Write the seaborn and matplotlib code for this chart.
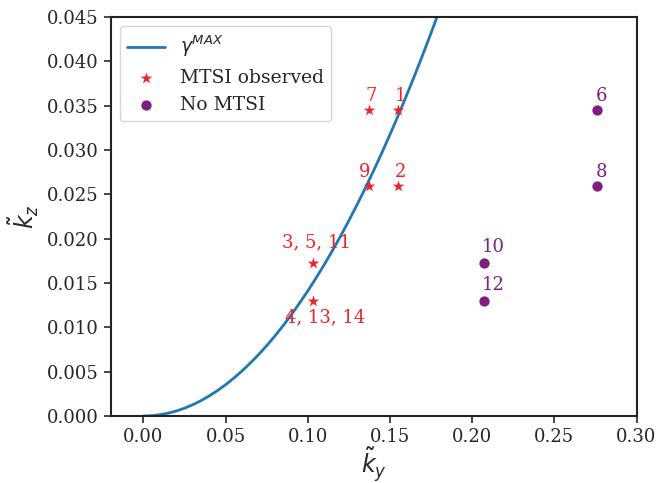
import matplotlib
matplotlib.use("Agg")
import matplotlib.pyplot as plt
import seaborn as sns
import pandas as pd

# Curve gamma^MAX
curve_x = [0.000, 0.005, 0.010, 0.015, 0.020, 0.025, 0.030, 0.035, 0.040, 0.045,
           0.050, 0.055, 0.060, 0.065, 0.070, 0.075, 0.080, 0.085, 0.090, 0.095,
           0.100, 0.105, 0.110, 0.115, 0.120, 0.125, 0.130, 0.135, 0.140, 0.145,
           0.150, 0.155, 0.160, 0.165, 0.170, 0.175, 0.180, 0.185]
curve_y = [0.0, 0.000035, 0.00014, 0.00032, 0.00056, 0.00088, 0.00127, 0.00173,
           0.00226, 0.00286, 0.00353, 0.00427, 0.00508, 0.00596, 0.00691, 0.00793,
           0.00902, 0.01019, 0.01142, 0.01273, 0.0141, 0.01555, 0.01706, 0.01865,
           0.0203, 0.02203, 0.02383, 0.0257, 0.02764, 0.02965, 0.03173, 0.03388,
           0.0361, 0.03839, 0.04075, 0.04318, 0.04568, 0.04826]

# MTSI observed
obs_x = [0.155, 0.155, 0.103, 0.103, 0.1375, 0.1375]
obs_y = [0.0345, 0.0259, 0.01725, 0.0130, 0.0345, 0.0259]
obs_labels = ["1", "2", "3, 5, 11", "4, 13, 14", "7", "9"]

# No MTSI
no_x = [0.276, 0.276, 0.207, 0.207]
no_y = [0.0345, 0.0259, 0.01725, 0.0130]
no_labels = ["6", "8", "10", "12"]

RED = "#ee2228"
PURPLE = "#7d1f80"
BLUE = "#1f77b4"

sns.set_style("ticks")
plt.rcParams["font.family"] = ["DejaVu Serif"]
plt.rcParams["mathtext.fontset"] = "dejavusans"

fig = plt.figure(figsize=(6.58, 4.83), dpi=100)
ax = fig.add_axes([0.168, 0.1387, 0.7994, 0.8265])

curve_df = pd.DataFrame({"x": curve_x, "y": curve_y})
obs_df = pd.DataFrame({"x": obs_x, "y": obs_y})
no_df = pd.DataFrame({"x": no_x, "y": no_y})

sns.lineplot(data=curve_df, x="x", y="y", ax=ax, color=BLUE, lw=2,
             label=r"$\gamma^{MAX}$", sort=False)
sns.scatterplot(data=obs_df, x="x", y="y", ax=ax, marker="*", color=RED,
                s=75, linewidth=0, label="MTSI observed", zorder=3)
sns.scatterplot(data=no_df, x="x", y="y", ax=ax, marker="o", color=PURPLE,
                s=55, linewidth=0, label="No MTSI", zorder=3)

obs_offsets = {"1": (1.5, 10), "2": (1.5, 10), "3, 5, 11": (3, 15),
               "4, 13, 14": (9, -12), "7": (1.5, 10), "9": (-3.5, 10)}
for xv, yv, lab in zip(obs_x, obs_y, obs_labels):
    ax.annotate(lab, (xv, yv), xytext=obs_offsets[lab], textcoords="offset points",
                ha="center", va="center", color=RED, fontsize=13)
no_offsets = {"6": (3.5, 10), "8": (3.5, 10), "10": (7, 11.5), "12": (7, 11)}
for xv, yv, lab in zip(no_x, no_y, no_labels):
    ax.annotate(lab, (xv, yv), xytext=no_offsets[lab], textcoords="offset points",
                ha="center", va="center", color=PURPLE, fontsize=13)

ax.set_xlim(-0.02, 0.30)
ax.set_ylim(0.0, 0.045)
ax.set_xticks([0.00, 0.05, 0.10, 0.15, 0.20, 0.25, 0.30])
ax.set_xticklabels(["0.00", "0.05", "0.10", "0.15", "0.20", "0.25", "0.30"])
ax.set_yticks([0.000, 0.005, 0.010, 0.015, 0.020, 0.025, 0.030, 0.035, 0.040, 0.045])
ax.set_yticklabels(["0.000", "0.005", "0.010", "0.015", "0.020", "0.025",
                    "0.030", "0.035", "0.040", "0.045"])
ax.tick_params(labelsize=13, length=5, width=1.2)
for sp in ax.spines.values():
    sp.set_linewidth(1.5)
    sp.set_color("#222222")
ax.set_xlabel(r"$\tilde{k}_y$", fontsize=17, labelpad=0)
ax.set_ylabel(r"$\tilde{k}_z$", fontsize=17)

leg = ax.legend(loc="upper left", fontsize=13.5, frameon=True)

fig.savefig("out.png", dpi=100)
